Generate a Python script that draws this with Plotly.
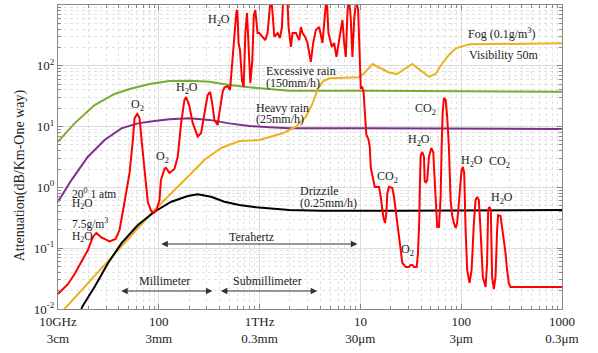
import plotly.graph_objects as go

# atmospheric attenuation vs frequency (GHz), dB/km one way
red_freq = [10, 12.6, 14.6, 17.1, 19.8, 22.2, 24.0, 26.9, 32.5, 37.3, 40.8, 45.7, 51.3, 55.3, 57.5,
            61.1, 64.4, 67.9, 72.2, 77.8, 84.1, 89.2, 94.2, 101.6, 105, 113.8, 117.8, 127.6, 142.9,
            154, 166.6, 179.6, 186.7, 201, 217, 243, 263, 283, 305, 323, 338, 356, 384, 399, 430,
            447, 482, 509, 533, 562, 588, 601, 619, 639, 669, 695, 722, 750, 778, 809, 847, 877,
            906, 955, 993, 1071, 1138, 1199, 1247, 1297, 1345, 1399, 1508, 1592, 1667, 1717, 1881,
            1937, 2046, 2122, 2293, 2472, 2570, 2667, 2833, 2985, 3226, 3401, 3616, 3900, 4207,
            4470, 4625, 4819, 5208, 5491, 5786, 6149, 6632, 6898, 7166, 7431, 7727, 8035, 8334,
            8666, 9065, 9489, 9772, 10090, 10460, 10760, 11140, 11470, 12000, 12390, 12680, 13150,
            13890, 15310, 15920, 16900, 17570, 18090, 18500, 19230, 20740, 21560, 22920, 24160,
            25120, 26060, 28180, 30360, 31560, 32730, 34030, 36160, 37260, 38370, 38990, 39620,
            41110, 42760, 43370, 44380, 46030, 47860, 50470, 52840, 53700, 55850, 57810, 60120,
            62520, 63970, 65460, 67450, 70150, 72610, 75510, 78520, 81470, 84720, 88100, 91200,
            96400, 100900, 104000, 107100, 110600, 114600, 121100, 126800, 133600, 138900, 143900,
            149600, 155500, 163900, 174500, 180700, 185100, 190900, 196700, 202600, 210700, 219000,
            227100, 232400, 245500, 254700, 264800, 275200, 285200, 296500, 308300, 345700, 1000000]
red_att = [0.0177, 0.0258, 0.0377, 0.0616, 0.0933, 0.153, 0.178, 0.150, 0.129, 0.142, 0.199, 0.575,
           1.73, 6.03, 13.8, 16.1, 13.8, 5.37, 1.73, 0.575, 0.409, 0.379, 0.409, 0.621, 1.32, 2.01,
           2.09, 1.73, 2.01, 3.16, 11.5, 27.4, 30.7, 21.8, 11.5, 6.83, 7.86, 16.8, 33.1, 37.1, 24.5,
           12.9, 10.6, 16.8, 37.1, 43.9, 46.5, 40.0, 95.5, 346, 767, 828, 237, 182, 58.4, 44.8, 346,
           738, 163, 52.1, 124, 685, 828, 346, 346, 298, 265, 346, 828, 1460, 738, 298, 346, 286,
           434, 1460, 1460, 434, 204, 346, 346, 265, 434, 346, 298, 237, 116, 237, 388, 434, 237,
           738, 1460, 346, 204, 237, 140, 265, 566, 237, 140, 738, 1460, 566, 140, 566, 1210, 828,
           182, 43.2, 43.9, 37.1, 14.4, 7.28, 6.25, 4.62, 2.09, 1.54, 1.02, 1.02, 0.695, 0.326,
           0.259, 0.379, 0.809, 1.02, 0.977, 0.695, 0.291, 0.153, 0.0834, 0.0571, 0.0491, 0.0491,
           0.0530, 0.0530, 0.0491, 0.0491, 0.0834, 0.291, 1.32, 3.41, 3.82, 3.16, 1.32, 1.18, 1.32,
           3.16, 4.45, 3.82, 2.17, 0.476, 0.223, 0.223, 0.695, 4.62, 16.8, 29.5, 27.4, 14.5, 4.62,
           0.621, 0.339, 0.259, 0.215, 0.259, 0.695, 1.93, 2.17, 1.73, 0.199, 0.0438, 0.0268,
           0.0438, 0.259, 0.621, 0.695, 0.621, 0.199, 0.0336, 0.0230, 0.0571, 0.425, 0.476, 0.425,
           0.0336, 0.0213, 0.0336, 0.199, 0.351, 0.339, 0.223, 0.153, 0.0834, 0.0438, 0.0268,
           0.0230, 0.0230, 0.0230]

rain150_freq = [10, 14.6, 23.1, 36.4, 51.3, 80.9, 127.6, 201, 318, 501, 791, 1247, 1968, 12190, 1000000]
rain150_att = [5.65, 11.3, 22.6, 34.4, 41.5, 50.2, 56.2, 56.9, 54.7, 48.3, 44.3, 41.0, 38.9, 38.9, 37.5]

rain25_freq = [10, 13.6, 19.8, 29.0, 42.5, 62.0, 90.6, 127.6, 201, 318, 501, 791, 1247, 1968, 12190, 1000000]
rain25_att = [0.582, 1.32, 3.20, 6.03, 9.37, 11.3, 12.4, 13.2, 13.7, 12.9, 11.3, 10.2, 9.73, 9.37, 9.37, 9.14]

drizzle_freq = [17.0, 17.7, 23.1, 31.3, 42.5, 62.0, 90.6, 133, 194, 243, 330, 447, 629, 920, 1968, 4178, 24160, 1000000]
drizzle_att = [0.01, 0.0114, 0.0233, 0.0565, 0.120, 0.241, 0.398, 0.582, 0.723, 0.771, 0.703, 0.582,
               0.514, 0.471, 0.425, 0.414, 0.414, 0.425]

fog_freq = [11.6, 19.8, 42.5, 90.6, 194, 283, 415, 629, 993, 1690, 2293, 2877, 3350, 3753, 4207, 4898,
            9700, 10890, 13150, 19230, 23070, 32730, 47860, 55850, 64860, 75510, 88100, 121100, 1000000]
fog_att = [0.01, 0.0265, 0.106, 0.425, 1.50, 2.82, 4.45, 5.80, 6.03, 7.76, 9.96, 14.5, 24.1, 40.0, 54.7,
           62.2, 64.7, 75.3, 107, 77.6, 73.3, 107, 66.2, 73.3, 110, 151, 194, 226, 234]

x_tickvals = [10, 100, 1e3, 1e4, 1e5, 1e6]
x_ticktext = ["10GHz<br>3cm", "100<br>3mm", "1THz<br>0.3mm", "10<br>30μm", "100<br>3μm", "1000<br>0.3μm"]
y_tickvals = [0.01, 0.1, 1, 10, 100, 1000]
y_ticktext = ["10<sup>-2</sup>", "10<sup>-1</sup>", "10<sup>0</sup>", "10<sup>1</sup>", "10<sup>2</sup>", "10<sup>3</sup>"]

FONT = "Liberation Serif, Times New Roman, serif"

fig = go.Figure()
fig.add_trace(go.Scatter(x=rain150_freq, y=rain150_att, mode="lines", line=dict(color="#77ac30", width=2)))
fig.add_trace(go.Scatter(x=rain25_freq, y=rain25_att, mode="lines", line=dict(color="#7e2f8e", width=2)))
fig.add_trace(go.Scatter(x=fog_freq, y=fog_att, mode="lines", line=dict(color="#edb120", width=2)))
fig.add_trace(go.Scatter(x=drizzle_freq, y=drizzle_att, mode="lines", line=dict(color="#000000", width=2)))
fig.add_trace(go.Scatter(x=red_freq, y=red_att, mode="lines", line=dict(color="#ff0000", width=2)))

# text labels: (text, log10 x, log10 y, anchor, size)
labels = [
    ("20<sup>0</sup> 1 atm", 1.116, -0.087, "left", 11.5),
    ("H<sub>2</sub>O", 1.116, -0.273, "left", 11.5),
    ("7.5g/m<sup>3</sup>", 1.116, -0.586, "left", 11.5),
    ("H<sub>2</sub>O", 1.116, -0.811, "left", 11.5),
    ("O<sub>2</sub>", 1.789, 1.355, "center", 12),
    ("O<sub>2</sub>", 2.037, 0.50, "center", 12),
    ("H<sub>2</sub>O", 2.284, 1.635, "center", 12),
    ("H<sub>2</sub>O", 2.601, 2.753, "center", 12),
    ("Excessive rain", 3.046, 1.914, "left", 12),
    ("(150mm/h)", 3.046, 1.722, "left", 12),
    ("Heavy rain", 2.947, 1.301, "left", 12),
    ("(25mm/h)", 2.947, 1.125, "left", 12),
    ("Drizzile", 3.383, -0.054, "left", 12),
    ("(0.25mm/h)", 3.383, -0.252, "left", 12),
    ("CO<sub>2</sub>", 4.27, 0.171, "center", 12),
    ("O<sub>2</sub>", 4.465, -1.03, "center", 12),
    ("H<sub>2</sub>O", 4.581, 0.78, "center", 12),
    ("CO<sub>2</sub>", 4.647, 1.285, "center", 12),
    ("H<sub>2</sub>O", 5.109, 0.439, "center", 12),
    ("CO<sub>2</sub>", 5.383, 0.423, "center", 12),
    ("H<sub>2</sub>O", 5.406, -0.179, "center", 12),
    ("Fog (0.1g/m<sup>3</sup>)", 5.403, 2.539, "center", 12),
    ("Visibility 50m", 5.423, 2.178, "center", 12),
    ("Terahertz", 2.915, -0.811, "center", 12),
    ("Millimeter", 2.056, -1.539, "center", 12),
    ("Submillimeter", 3.076, -1.539, "center", 12),
]
for txt, lx, ly, anc, sz in labels:
    fig.add_annotation(x=lx, y=ly, text=txt, showarrow=False, xanchor=anc, yanchor="middle",
                       font=dict(family=FONT, size=sz, color="#222"))

# band arrows (log10 x from, to, log10 y)
bands = [(2.01, 3.97, -0.931), (1.612, 2.532, -1.704), (2.601, 3.571, -1.704)]
for x0, x1, yy in bands:
    fig.add_annotation(x=x1, y=yy, ax=x0, ay=yy, xref="x", yref="y", axref="x", ayref="y",
                       text="", showarrow=True, arrowhead=2, startarrowhead=2, arrowside="end+start",
                       arrowsize=1.3, arrowwidth=1, arrowcolor="#333", standoff=0, startstandoff=0)

fig.add_annotation(x=-0.095, y=0.44, xref="paper", yref="paper", text="Attenuation(dB/Km-One way)",
                   textangle=-90, showarrow=False, font=dict(family=FONT, size=14, color="#222"))
fig.add_annotation(x=0.47, y=-0.13, xref="paper", yref="paper", yanchor="top", xanchor="center",
                   text="Frequency →", showarrow=False, font=dict(family=FONT, size=14, color="#222"))

axis_common = dict(
    type="log", showline=True, linecolor="#888", linewidth=1, mirror="allticks",
    ticks="inside", ticklen=5, tickcolor="#888", showgrid=True, gridcolor="#dddddd", gridwidth=1,
    zeroline=False, tickfont=dict(family=FONT, size=13, color="#222"),
    minor=dict(dtick="D1", ticks="inside", ticklen=3, tickcolor="#888", showgrid=True,
               gridcolor="#e2e2e2", griddash="dot"),
)
fig.update_xaxes(range=[1, 6], tickvals=x_tickvals, ticktext=x_ticktext, **axis_common)
fig.update_yaxes(range=[-2, 3], tickvals=y_tickvals, ticktext=y_ticktext, **axis_common)

fig.update_layout(
    width=598, height=353, margin=dict(l=58, r=36, t=5, b=44, autoexpand=False),
    paper_bgcolor="white", plot_bgcolor="white", showlegend=False,
    font=dict(family=FONT, size=13, color="#222"),
)
# page body margin would shift the figure; drop it
fig.write_html("out.html", config={"displayModeBar": False},
               post_script="document.body.style.margin='0';")
